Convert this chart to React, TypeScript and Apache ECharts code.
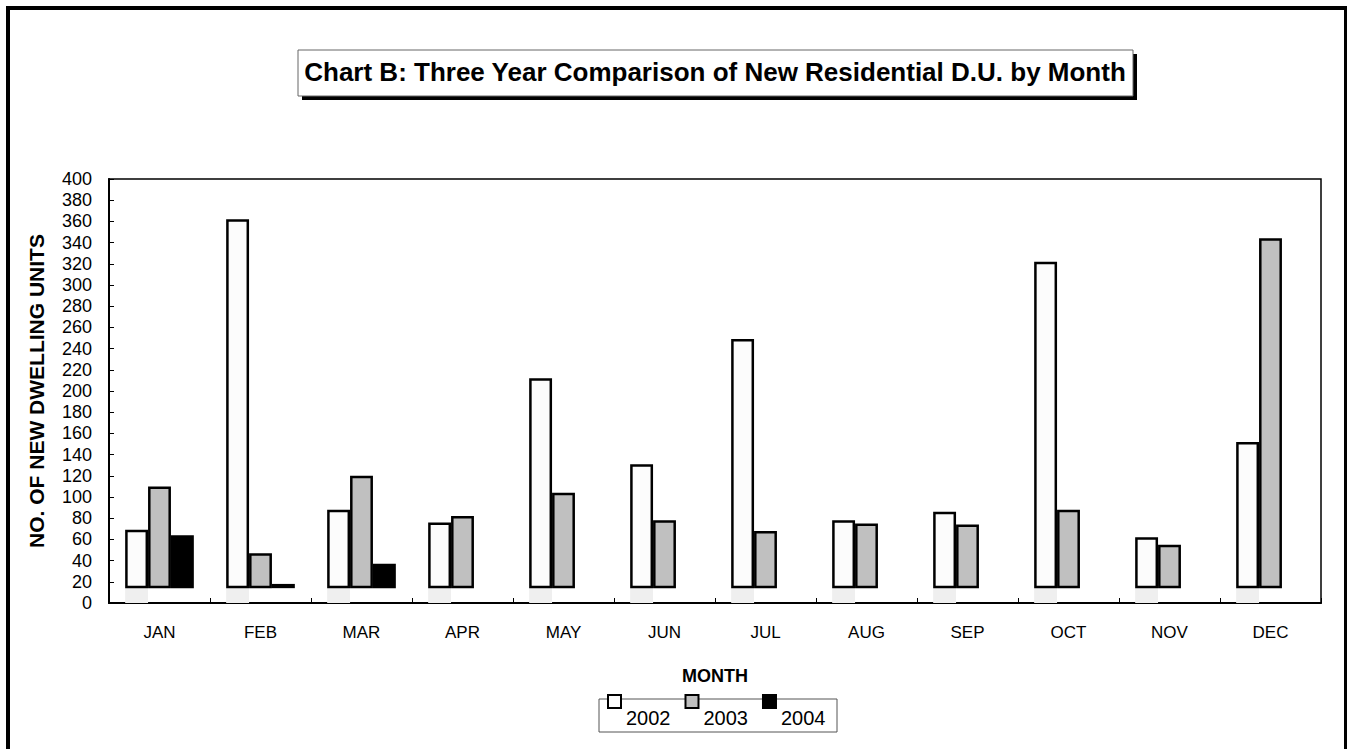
import React, { useEffect, useRef } from "react";
import * as echarts from "echarts";

const months = ["JAN", "FEB", "MAR", "APR", "MAY", "JUN", "JUL", "AUG", "SEP", "OCT", "NOV", "DEC"];
const units2002: (number | null)[] = [69, 362, 88, 76, 212, 131, 249, 78, 86, 322, 62, 152];
const units2003: (number | null)[] = [110, 47, 120, 82, 104, 78, 68, 75, 74, 88, 55, 344];
const units2004: (number | null)[] = [64, 18, 37, null, null, null, null, null, null, null, null, null];
const yMin = 0;
const yMax = 400;
const yStep = 20;
// In the original, bars are drawn from a baseline slightly above zero.
const BAR_BASE = 14;

const FONT = "Arial, 'Liberation Sans', Helvetica, sans-serif";

export default function App() {
  const ref = useRef<HTMLDivElement>(null);
  useEffect(() => {
    const chart = echarts.init(ref.current!, null, { renderer: "svg" });
    const base = (arr: (number | null)[]) => arr.map((v) => (v == null ? null : BAR_BASE));
    const top = (arr: (number | null)[]) => arr.map((v) => (v == null ? null : v - BAR_BASE));
    const mk = (name: string, stack: string, arr: (number | null)[], fill: string, baseFill: string) => [
      {
        name: name + " base",
        type: "bar",
        stack,
        data: base(arr),
        itemStyle: { color: baseFill },
        barGap: "0%",
        barCategoryGap: "32%",
        silent: true,
      },
      {
        name,
        type: "bar",
        stack,
        data: top(arr),
        itemStyle: { color: fill, borderColor: "#000", borderWidth: 2.5 },
        barGap: "0%",
        barCategoryGap: "32%",
      },
    ];
    const option: any = {
      animation: false,
      backgroundColor: "transparent",
      title: {
        text: "Chart B: Three Year Comparison of New Residential D.U. by Month",
        left: 715,
        top: 59,
        padding: 0,
        textAlign: "center",
        textStyle: { fontFamily: FONT, fontSize: 26, fontWeight: "bold", color: "#000" },
        z: 10,
      },
      legend: {
        data: ["2002", "2003", "2004"],
        left: 607,
        top: 694,
        padding: 0,
        itemWidth: 13,
        itemHeight: 13,
        itemGap: 14,
        icon: "rect",
        selectedMode: false,
        formatter: "{t|{name}}",
        textStyle: {
          fontFamily: FONT,
          fontSize: 20,
          color: "#000",
          rich: { t: { fontFamily: FONT, fontSize: 20, color: "#000", padding: [33, 0, 0, 0] } },
        },
        z: 10,
      },
      graphic: [
        { type: "rect", shape: { x: 302, y: 54, width: 835, height: 46 }, style: { fill: "#000" }, z: 1 },
        { type: "rect", shape: { x: 298, y: 50, width: 835, height: 46 }, style: { fill: "#fff", stroke: "#666", lineWidth: 1 }, z: 2 },
        { type: "rect", shape: { x: 599, y: 699, width: 238, height: 33 }, style: { fill: "#fff", stroke: "#555", lineWidth: 1 }, z: 1 },
      ],
      grid: {
        left: 109,
        top: 179,
        width: 1212,
        height: 424,
        show: true,
        borderColor: "#000",
        borderWidth: 1.5,
        backgroundColor: "transparent",
      },
      xAxis: {
        type: "category",
        data: months,
        boundaryGap: true,
        name: "MONTH",
        nameLocation: "middle",
        nameGap: 64,
        nameTextStyle: { fontFamily: FONT, fontSize: 18, fontWeight: "bold", color: "#000" },
        axisLine: { lineStyle: { color: "#000", width: 2 } },
        axisTick: { show: true, inside: true, length: 5, lineStyle: { color: "#000", width: 1 } },
        axisLabel: { fontFamily: FONT, fontSize: 17, color: "#000", margin: 21 },
        splitLine: { show: false },
      },
      yAxis: {
        type: "value",
        min: yMin,
        max: yMax,
        interval: yStep,
        name: "NO. OF NEW DWELLING UNITS",
        nameLocation: "middle",
        nameRotate: 90,
        nameGap: 62,
        nameTextStyle: { fontFamily: FONT, fontSize: 21, fontWeight: "bold", color: "#000" },
        axisLine: { show: true, lineStyle: { color: "#000", width: 2 } },
        axisTick: { show: true, inside: true, length: 5, lineStyle: { color: "#000", width: 1 } },
        axisLabel: { fontFamily: FONT, fontSize: 18, color: "#000", margin: 17 },
        splitLine: { show: false },
      },
      series: [
        ...mk("2002", "s2002", units2002, "#fcfcfc", "#efefef"),
        ...mk("2003", "s2003", units2003, "#c0c0c0", "transparent"),
        ...mk("2004", "s2004", units2004, "#000000", "transparent"),
      ],
    };
    chart.setOption(option);
    return () => chart.dispose();
  }, []);
  return (
    <div style={{ position: "fixed", left: 0, top: 0, width: 1348, height: 749, background: "#fff", overflow: "hidden" }}>
      <div
        style={{
          position: "absolute",
          left: 6,
          top: 6,
          width: 1334,
          height: 800,
          borderLeft: "4px solid #000",
          borderTop: "4px solid #000",
          borderRight: "3px solid #000",
        }}
      />
      <div ref={ref} style={{ position: "absolute", left: 0, top: 0, width: 1348, height: 749 }} />
    </div>
  );
}
